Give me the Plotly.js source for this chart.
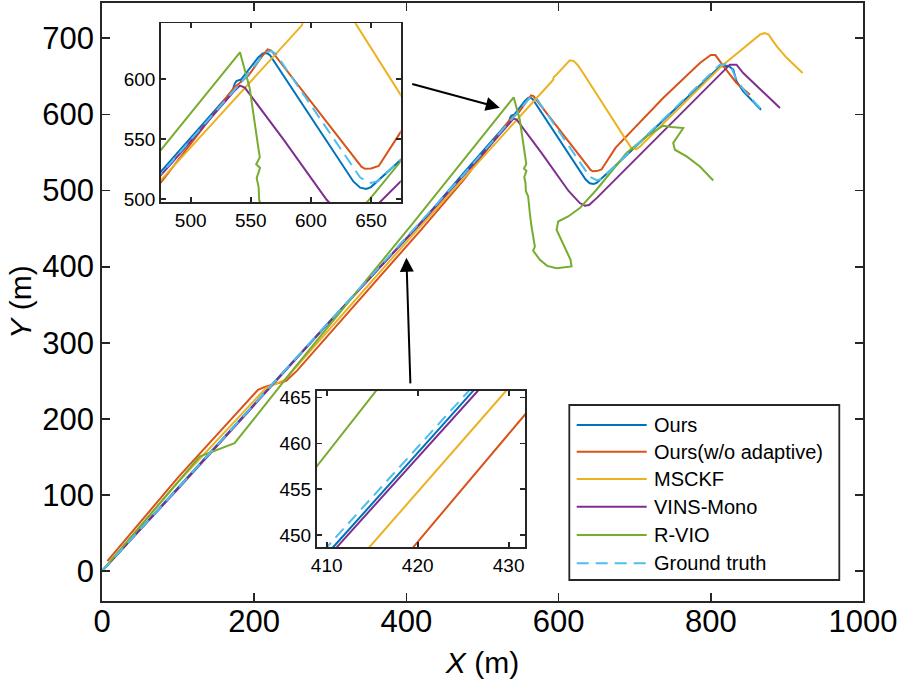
<!DOCTYPE html>
<html>
<head>
<meta charset="utf-8">
<script src="https://cdn.plot.ly/plotly-3.0.1.min.js"></script>
<style>html,body{margin:0;padding:0;background:#fff;}#chart{width:900px;height:681px;}</style>
</head>
<body>
<div id="chart"></div>
<script>
// ---- Data ----
const seriesNames = ["Ours", "Ours(w/o adaptive)", "MSCKF", "VINS-Mono", "R-VIO", "Ground truth"];

const oursX = [0, 100, 210, 300, 410.7, 426.0, 475.3, 535, 536.5, 538, 541, 543, 542, 548, 556, 560, 563, 566, 635.3, 641, 646, 650, 675, 812, 823, 829.5, 833.8, 842.6, 866];
const oursY = [0, 110, 231, 329, 448.7, 465.6, 523, 591, 596, 598.5, 599.5, 598, 600, 608, 618, 621.5, 622, 620, 514.7, 509.5, 508.5, 510, 533, 663, 664, 659, 643.4, 630.3, 606.2];

const noAdaptX = [7, 100, 205, 214, 242, 256, 419.5, 431.6, 475.3, 536, 548, 560, 564, 567, 642, 645, 650, 656.4, 675, 737.4, 785.7, 800, 806, 816.3, 833.8, 851.4];
const noAdaptY = [13, 123, 238, 242, 250, 263, 448.7, 462.9, 514, 593, 603, 620, 625, 624, 527, 525.3, 525.5, 527.6, 556.4, 621.5, 667.6, 678, 678, 663.8, 641.3, 625.9];

const msckfX = [0, 100, 215, 240, 414.6, 429.7, 475.3, 592.5, 593.7, 596, 614.7, 620, 625, 632.2, 684.8, 695.5, 702, 706, 816.3, 865, 871, 876, 880, 887, 900, 920.7];
const msckfY = [0, 117, 240, 251, 448.7, 465.7, 516, 645, 649, 651, 671, 670, 665, 654.4, 571, 555.8, 554.3, 557, 665.4, 705, 707, 705, 699, 689, 674, 654.4];

const vinsX = [0, 100, 300, 411.1, 426.6, 485.5, 536, 541, 545, 577, 613.1, 627.9, 634.4, 640, 650, 825.1, 833.8, 842.6, 890.9];
const vinsY = [0, 108, 328, 448.7, 465.7, 531.4, 590, 594.7, 593, 550, 499.4, 483.5, 480, 481, 490, 665.4, 665.4, 654.4, 608.4];

const rvioX = [0, 128.2, 174.2, 250.9, 408.9, 475.3, 541, 549, 556.3, 557.5, 554.5, 557.7, 554.9, 556.5, 557, 560, 562.2, 564.4, 568.8, 566.5, 575.4, 585, 597.3, 617, 615.7, 606, 597.3, 599.5, 612.6, 627.9, 649.8, 689.2, 715.6, 737.5, 748.4, 763.8, 750.6, 752.8, 768.2, 785.7, 798.9, 803.2];
const rvioY = [0, 150.3, 167.9, 264.3, 457.5, 541.1, 622.5, 593, 542.5, 535, 529, 526, 517.5, 510, 499, 492.2, 470.3, 452.7, 426.4, 421, 409, 401, 398, 400.2, 409, 430, 448.4, 459.3, 465.9, 476.9, 501, 549.2, 571.1, 585.1, 583.4, 582.1, 562.4, 553.6, 544.8, 531.6, 518.5, 513.2];

const gtX = [0, 100, 300, 410.0, 425.6, 475.3, 536, 545, 556, 563, 567, 571, 641, 646, 650, 656, 675, 812, 820, 827, 834, 845, 865];
const gtY = [0, 109, 329, 448.7, 465.7, 521, 591, 601, 615, 622.5, 623.5, 621, 518, 515, 513.5, 515, 533, 665.4, 666, 661, 645, 630, 608];

const seriesX = [oursX, noAdaptX, msckfX, vinsX, rvioX, gtX];
const seriesY = [oursY, noAdaptY, msckfY, vinsY, rvioY, gtY];
const colors = ["#0072BD", "#D95319", "#EDB120", "#7E2F8E", "#77AC30", "#4DBEEE"];
const dashes = ["solid", "solid", "solid", "solid", "solid", "12px,7px"];

// tick values
const mainXTicks = [0, 200, 400, 600, 800, 1000];
const mainYTicks = [0, 100, 200, 300, 400, 500, 600, 700];
const inset1XTicks = [500, 550, 600, 650];
const inset1YTicks = [500, 550, 600];
const inset2XTicks = [410, 420, 430];
const inset2YTicks = [450, 455, 460, 465];

// ---- Build traces ----
const traces = [];
const axesSets = [["x", "y"], ["x2", "y2"], ["x3", "y3"]];
axesSets.forEach(function (ax) {
  for (let i = 0; i < seriesNames.length; i++) {
    traces.push({
      type: "scatter", mode: "lines",
      x: seriesX[i], y: seriesY[i],
      name: seriesNames[i], showlegend: false,
      xaxis: ax[0], yaxis: ax[1],
      line: { color: colors[i], width: 2, dash: dashes[i] },
      hoverinfo: "skip"
    });
  }
});

const FONT = "Liberation Sans, Arial, Helvetica, sans-serif";
const axColor = "#262626";

function axisBase(extra) {
  return Object.assign({
    showline: true, mirror: "ticks", linecolor: axColor, linewidth: 1.8,
    ticks: "inside", tickcolor: axColor, tickwidth: 1.8,
    showgrid: false, zeroline: false, tickmode: "array",
    tickfont: { family: FONT, color: "#000" }
  }, extra);
}

// Main plot area: left 102, right 863, top 3, bottom 601
const L = 102, R = 37, T = 3, B = 80;
const W = 900 - L - R, H = 681 - T - B;
function px2paperX(px) { return (px - L) / W; }
function px2paperY(py) { return (681 - B - py) / H; }

const layout = {
  width: 900, height: 681,
  margin: { l: L, r: R, t: T, b: B, pad: 0 },
  paper_bgcolor: "#fff", plot_bgcolor: "#fff",
  showlegend: false,
  font: { family: FONT, color: "#000" },
  xaxis: axisBase({
    range: [0, 1000], tickvals: mainXTicks, ticklen: 8, ticklabelstandoff: -8,
    tickfont: { family: FONT, size: 31, color: "#000" },
    title: { text: "<i>X</i> (m)", font: { family: FONT, size: 30, color: "#000" }, standoff: 14 },
    domain: [0, 1]
  }),
  yaxis: axisBase({
    range: [-39.4, 746.4], tickvals: mainYTicks, ticklen: 8,
    tickfont: { family: FONT, size: 31, color: "#000" },
    title: { text: "<i>Y</i> (m)", font: { family: FONT, size: 30, color: "#000" }, standoff: 2 },
    domain: [0, 1]
  }),
  xaxis2: axisBase({
    anchor: "y2", range: [475.3, 674.7], tickvals: inset1XTicks, ticklen: 5,
    tickfont: { family: FONT, size: 19, color: "#000" },
    domain: [px2paperX(161), px2paperX(400.7)]
  }),
  yaxis2: axisBase({
    anchor: "x2", range: [497.3, 646.7], tickvals: inset1YTicks, ticklen: 5,
    tickfont: { family: FONT, size: 19, color: "#000" },
    domain: [px2paperY(202.3), px2paperY(23.3)]
  }),
  xaxis3: axisBase({
    anchor: "y3", range: [408.9, 431.8], tickvals: inset2XTicks, ticklen: 5,
    tickfont: { family: FONT, size: 19, color: "#000" },
    domain: [px2paperX(316.7), px2paperX(525)]
  }),
  yaxis3: axisBase({
    anchor: "x3", range: [448.7, 465.7], tickvals: inset2YTicks, ticklen: 5,
    tickfont: { family: FONT, size: 19, color: "#000" },
    domain: [px2paperY(547.3), px2paperY(391)]
  }),
  shapes: [],
  annotations: []
};

// Arrows pointing from insets to the zoomed regions (data coordinates of main axes)
layout.annotations.push({
  xref: "x", yref: "y", axref: "x", ayref: "y",
  x: 522.7, y: 608.8, ax: 405.7, ay: 640.4,
  showarrow: true, arrowhead: 2, arrowsize: 1.4, arrowwidth: 2, arrowcolor: "#000", text: ""
});
layout.annotations.push({
  xref: "x", yref: "y", axref: "x", ayref: "y",
  x: 400.0, y: 411.6, ax: 405.3, ay: 244.6,
  showarrow: true, arrowhead: 2, arrowsize: 1.4, arrowwidth: 2, arrowcolor: "#000", text: ""
});

// Legend (box, sample lines, labels)
const legL = px2paperX(569.3), legR = px2paperX(839.3), legT = px2paperY(405), legB = px2paperY(580);
layout.shapes.push({
  type: "rect", xref: "paper", yref: "paper", x0: legL, x1: legR, y0: legB, y1: legT,
  line: { color: axColor, width: 1.8 }, fillcolor: "#fff", layer: "above"
});
const rowsPx = [425, 451.7, 479, 506.7, 535, 563.3];
for (let i = 0; i < seriesNames.length; i++) {
  const yy = px2paperY(rowsPx[i]);
  layout.shapes.push({
    type: "line", xref: "paper", yref: "paper",
    x0: px2paperX(576.7), x1: px2paperX(646.7), y0: yy, y1: yy,
    line: { color: colors[i], width: 2, dash: i === 5 ? "12px,7px" : "solid" }, layer: "above"
  });
  layout.annotations.push({
    xref: "paper", yref: "paper", x: px2paperX(652), y: yy,
    xanchor: "left", yanchor: "middle", showarrow: false,
    text: seriesNames[i], font: { family: FONT, size: 20, color: "#000" }
  });
}

Plotly.newPlot("chart", traces, layout, { displayModeBar: false, staticPlot: true });
</script>
</body>
</html>
